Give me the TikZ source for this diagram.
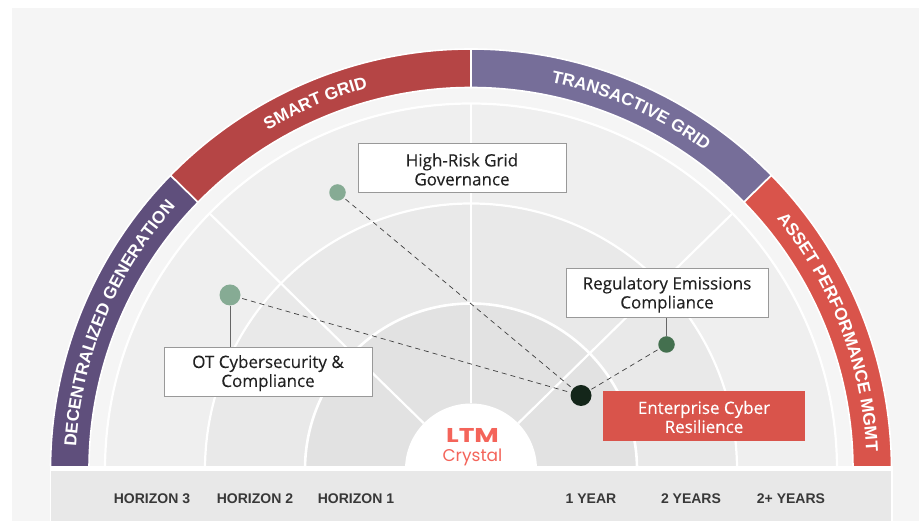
\documentclass[tikz,border=0pt]{standalone}
\usepackage{fontspec}
\setmainfont{Open Sans}[FakeBold=0.2]
\newfontfamily\lblfont{Liberation Sans}
\newfontfamily\logofont{Poppins}
\usetikzlibrary{decorations.text}
\definecolor{bgc}{HTML}{F5F5F5}
\definecolor{fanA}{HTML}{EFEFEF}
\definecolor{fanB}{HTML}{E9E9E9}
\definecolor{fanC}{HTML}{E2E2E2}
\definecolor{basec}{HTML}{E8E8E8}
\definecolor{segA}{HTML}{5F4F7C}
\definecolor{segB}{HTML}{B54545}
\definecolor{segC}{HTML}{766E99}
\definecolor{segD}{HTML}{D9544B}
\definecolor{logoc}{HTML}{F4645A}
\definecolor{inkc}{HTML}{222222}
\definecolor{dotA}{HTML}{86AB94}
\definecolor{dotB}{HTML}{44704F}
\definecolor{dotC}{HTML}{14261A}
\newcommand{\liftline}{\rule{0pt}{15pt}}
\tikzset{
  x=1pt,y=1pt,
  seg/.style={draw=white,line width=1.6pt},
  whiteline/.style={draw=white,line width=2.2pt},
  labelbox/.style={draw=black!40,line width=1pt,fill=white,minimum height=49pt,align=center,text=inkc,font=\fontsize{17}{19}\selectfont,inner sep=0pt},
  hotbox/.style={fill=segD,minimum height=50pt,align=center,text=white,font=\fontsize{17}{19}\selectfont,inner sep=0pt},
  dot/.style={circle,inner sep=0pt},
  dashlink/.style={draw=black!75,line width=0.7pt,dash pattern=on 5pt off 4pt},
  stem/.style={draw=black!60,line width=1pt},
  axislabel/.style={font=\lblfont\bfseries\fontsize{14}{16}\selectfont,text=black!78,inner sep=0pt,anchor=center}
}
\newcommand{\arclabel}[4]{%
  \path[decorate,decoration={text along path,text align=center,
    text={|\lblfont\bfseries\fontsize{17.2}{20}\selectfont\color{white}|#4}}]
    (471,51.5)+(#1:#3pt) arc[start angle=#1,end angle=#2,radius=#3pt];}
\begin{document}
\begin{tikzpicture}
\useasboundingbox (0,0) rectangle (919,521);
\fill[white] (0,0) rectangle (919,521);
\fill[bgc] (12,0) rectangle (919,513);
\begin{scope}
\clip (0,55) rectangle (919,521);
% fan
\fill[fanA] (471,51.5) circle[radius=366pt];
\fill[fanB] (471,51.5) circle[radius=266pt];
\fill[fanC] (471,51.5) circle[radius=166pt];
\draw[whiteline] (471,51.5) circle[radius=366pt];
\draw[whiteline] (471,51.5) circle[radius=266pt];
\draw[whiteline,line width=2.6pt] (471,51.5) circle[radius=166pt];
\draw[whiteline] (471,51.5)+(44.4:66pt) -- +(44.4:366pt);
\draw[whiteline] (471,51.5)+(135.6:66pt) -- +(135.6:366pt);
\draw[whiteline] (471,51.5)+(90:66pt) -- +(90:366pt);
\fill[white] (471,51.5) circle[radius=66pt];
% ring segments
\draw[seg,fill=segA] (471,51.5)+(180:420.5pt) arc[start angle=180,end angle=135.6,radius=420.5pt] -- ++(-44.4:38.5pt) arc[start angle=135.6,end angle=180,radius=382pt] -- cycle;
\draw[seg,fill=segB] (471,51.5)+(135.6:420.5pt) arc[start angle=135.6,end angle=90,radius=420.5pt] -- ++(-90:38.5pt) arc[start angle=90,end angle=135.6,radius=382pt] -- cycle;
\draw[seg,fill=segC] (471,51.5)+(90:420.5pt) arc[start angle=90,end angle=44.4,radius=420.5pt] -- ++(-135.6:38.5pt) arc[start angle=44.4,end angle=90,radius=382pt] -- cycle;
\draw[seg,fill=segD] (471,51.5)+(44.4:420.5pt) arc[start angle=44.4,end angle=0,radius=420.5pt] -- ++(180:38.5pt) arc[start angle=0,end angle=44.4,radius=382pt] -- cycle;
\end{scope}
\arclabel{178}{137}{395.5}{DECENTRALIZED GENERATION}
\arclabel{133.5}{92.5}{395.5}{SMART GRID}
\arclabel{86.5}{45.5}{395.5}{TRANSACTIVE GRID}
\arclabel{41.5}{0.5}{395.5}{ASSET PERFORMANCE MGMT}
% base
\fill[white] (50,0) rectangle (892.5,55);
\fill[basec] (51,0) rectangle (891,50);
\node[axislabel] (h3) at (152,22.5) {HORIZON 3};
\node[axislabel] (h2) at (255,22.5) {HORIZON 2};
\node[axislabel] (h1) at (356,22.5) {HORIZON 1};
\node[axislabel] (y1) at (591,22.5) {1 YEAR};
\node[axislabel] (y2) at (691,22.5) {2 YEARS};
\node[axislabel] (y3) at (791,22.5) {2+ YEARS};
% logo
\node[inner sep=0pt,text=logoc,font=\logofont\bfseries\fontsize{19}{20}\selectfont] (ltm) at (472.5,85) {\scalebox{1.4}[1.05]{LTM}};
\node[inner sep=0pt,text=logoc,font=\logofont\fontsize{17}{18}\selectfont] (crystal) at (472.5,64) {Crystal};
% boxes
\node[labelbox,minimum width=208pt] (risk) at (462,352.5) {\liftline High-Risk Grid\\Governance};
\node[labelbox,minimum width=208pt] (ot) at (268,149) {\liftline OT Cybersecurity \&\\Compliance};
\node[labelbox,minimum width=202pt] (reg) at (667,227.5) {\liftline Regulatory Emissions\\Compliance};
\node[hotbox,minimum width=202pt] (ent) at (704,105) {\liftline Enterprise Cyber\\Resilience};
% dots
\node[dot,fill=dotA,minimum size=16.5pt] (d1) at (337.5,328.5) {};
\node[dot,fill=dotA,minimum size=21pt] (d2) at (230,226) {};
\node[dot,fill=dotB,minimum size=16.5pt] (d3) at (666.5,176.5) {};
\node[dot,fill=dotC,minimum size=21pt] (d4) at (581,125.5) {};
% connectors
\draw[stem] (d2) -- (d2 |- ot.north);
\draw[stem] (d3) -- (d3 |- reg.south);
\draw[dashlink,shorten <=2pt] (d1) -- (d4);
\draw[dashlink,shorten <=2pt] (d2) -- (d4);
\draw[dashlink,shorten <=2pt] (d3) -- (d4);
\end{tikzpicture}
\end{document}
